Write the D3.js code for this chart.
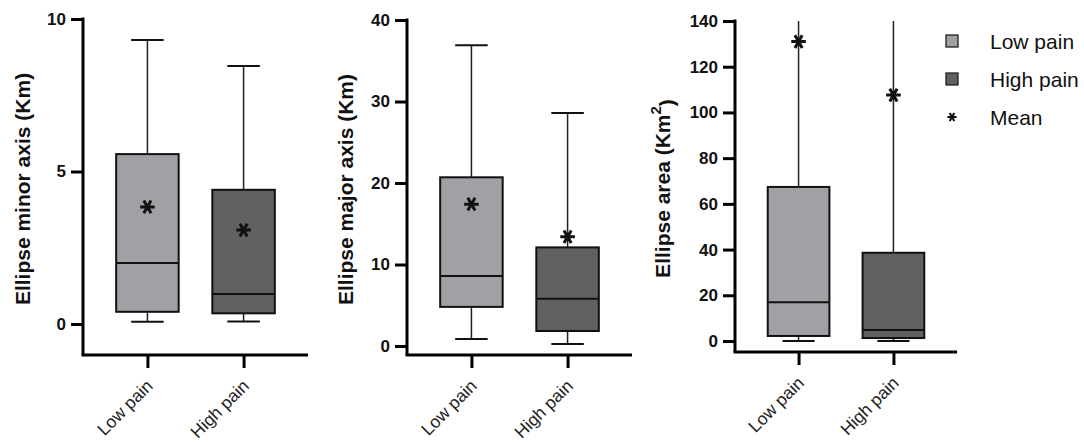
<!DOCTYPE html>
<html>
<head>
<meta charset="utf-8">
<script src="https://cdn.jsdelivr.net/npm/d3@7"></script>
<style>
  body { margin: 0; background: #fff; }
  svg { display: block; font-family: "Liberation Sans", Arial, sans-serif; }
</style>
</head>
<body>
<svg id="chart" width="1084" height="446"></svg>
<script>
// Groups
var categories = ["Low pain", "High pain"];

// Box stats per group: [whisker low, Q1, median, Q3, whisker high]
var minorStats = [[0.07, 0.4, 2.0, 5.57, 9.31], [0.08, 0.35, 0.98, 4.4, 8.46]];
var minorMeans = [3.84, 3.08];
var minorTicks = [0, 5, 10];

var majorStats = [[0.86, 4.8, 8.6, 20.7, 36.9], [0.25, 1.84, 5.8, 12.1, 28.6]];
var majorMeans = [17.4, 13.4];
var majorTicks = [0, 10, 20, 30, 40];

var areaStats = [[0.0, 2.2, 17.0, 67.4, 140], [0.0, 1.3, 4.8, 38.6, 140]];
var areaMeans = [131, 107.6];
var areaTicks = [0, 20, 40, 60, 80, 100, 120, 140];

var fills = ["#a1a1a5", "#616161"];

// Panel layout
var panels = [
  { stats: minorStats, means: minorMeans, ticks: minorTicks, label: "Ellipse minor axis (Km)",
    left: 83, right: 308, top: 19, zero: 324, bottom: 355, labelX: 23 },
  { stats: majorStats, means: majorMeans, ticks: majorTicks, label: "Ellipse major axis (Km)",
    left: 407, right: 632, top: 20, zero: 346, bottom: 355, labelX: 346 },
  { stats: areaStats, means: areaMeans, ticks: areaTicks, label: "Ellipse area (Km", sup: "2",
    left: 735, right: 957, top: 21, zero: 341, bottom: 352, labelX: 663 }
];

var svg = d3.select("#chart");
var star = d3.symbol().type(d3.symbolAsterisk);

panels.forEach(function(p) {
  var g = svg.append("g");
  var yMax = d3.max(p.ticks);

  var y = d3.scaleLinear().domain([0, yMax]).range([p.zero, p.top]);
  var x = d3.scalePoint().domain(categories).range([p.left, p.right]).padding(0.67);
  var boxW = x.step() * 0.65;
  var capW = boxW * 0.52;

  // Boxes
  var box = g.selectAll("g.box")
    .data(categories)
    .enter().append("g")
      .attr("class", "box")
      .attr("transform", function(d) { return translate(x(d), 0); });

  box.each(function(d, i) {
    var s = p.stats[i], b = d3.select(this);
    var top = Math.min(s[4], yMax);

    // Whiskers
    b.append("line").attr("x1", 0).attr("x2", 0)
      .attr("y1", y(s[3])).attr("y2", y(top))
      .style("stroke", "#222").style("stroke-width", 1.5);
    b.append("line").attr("x1", 0).attr("x2", 0)
      .attr("y1", y(s[1])).attr("y2", y(s[0]))
      .style("stroke", "#222").style("stroke-width", 1.5);
    if (s[4] < yMax) {
      b.append("line").attr("x1", -capW/2).attr("x2", capW/2)
        .attr("y1", y(s[4])).attr("y2", y(s[4]))
        .style("stroke", "#111").style("stroke-width", 2);
    }
    b.append("line").attr("x1", -capW/2).attr("x2", capW/2)
      .attr("y1", y(s[0])).attr("y2", y(s[0]))
      .style("stroke", "#111").style("stroke-width", 2);

    // Box
    b.append("rect")
      .attr("x", -boxW/2).attr("width", boxW)
      .attr("y", y(s[3])).attr("height", y(s[1]) - y(s[3]))
      .style("fill", fills[i])
      .style("stroke", "#111").style("stroke-width", 2);

    // Median
    b.append("line").attr("x1", -boxW/2).attr("x2", boxW/2)
      .attr("y1", y(s[2])).attr("y2", y(s[2]))
      .style("stroke", "#111").style("stroke-width", 2);

    // Mean
    b.append("path")
      .attr("d", star.size(150)())
      .attr("transform", translate(0, y(p.means[i])) + " rotate(90)")
      .style("fill", "none").style("stroke", "#111").style("stroke-width", 3);
  });

  // Y axis
  var yAxis = g.append("g")
    .attr("transform", translate(p.left, 0))
    .call(d3.axisLeft(y).tickValues(p.ticks).tickSize(12).tickPadding(5).tickSizeOuter(0));
  yAxis.select(".domain").remove();
  yAxis.selectAll(".tick line").style("stroke", "#000").style("stroke-width", 3);
  yAxis.selectAll(".tick text")
    .style("font-family", "Liberation Sans, Arial, sans-serif")
    .style("font-size", "17px").style("font-weight", "bold").style("fill", "#111");
  g.append("line")
    .attr("x1", p.left).attr("x2", p.left)
    .attr("y1", p.top - 1.5).attr("y2", p.bottom)
    .style("stroke", "#000").style("stroke-width", 3);

  // X axis
  var xAxis = g.append("g")
    .attr("transform", translate(0, p.bottom))
    .call(d3.axisBottom(x).tickSize(13).tickSizeOuter(0));
  xAxis.select(".domain").remove();
  xAxis.selectAll(".tick line").style("stroke", "#000").style("stroke-width", 3);
  xAxis.selectAll(".tick text")
    .attr("x", 0).attr("y", 0).attr("dy", 0)
    .attr("transform", translate(6, 32) + " rotate(-45)")
    .style("text-anchor", "end")
    .style("font-family", "Liberation Sans, Arial, sans-serif")
    .style("font-size", "17.5px").style("fill", "#222");
  g.append("line")
    .attr("x1", p.left - 1.5).attr("x2", p.right)
    .attr("y1", p.bottom).attr("y2", p.bottom)
    .style("stroke", "#000").style("stroke-width", 3);

  // Y label
  var lab = g.append("text")
    .attr("transform", translate(p.labelX, (p.top + p.bottom) / 2 + 2) + " rotate(-90)")
    .attr("dy", "0.35em")
    .style("text-anchor", "middle")
    .style("font-size", "21px").style("font-weight", "bold").style("fill", "#111")
    .text(p.label);
  if (p.sup) {
    lab.append("tspan").attr("dy", "-0.6em").style("font-size", "15px").text(p.sup);
    lab.append("tspan").attr("dy", "0.6em").text(")");
  }
});

// Legend
var legendItems = categories.concat(["Mean"]);
var legend = svg.append("g").attr("transform", translate(952, 41));
var item = legend.selectAll("g.item")
  .data(legendItems)
  .enter().append("g")
    .attr("class", "item")
    .attr("transform", function(d, i) { return translate(0, i * 38); });

item.each(function(d, i) {
  var it = d3.select(this);
  if (i < fills.length) {
    it.append("rect")
      .attr("x", -6).attr("y", -6).attr("width", 12).attr("height", 12)
      .style("fill", fills[i]).style("stroke", "#111").style("stroke-width", 1.2);
  } else {
    it.append("path")
      .attr("d", star.size(60)())
      .attr("transform", "rotate(90)")
      .style("fill", "none").style("stroke", "#111").style("stroke-width", 2.2);
  }
  it.append("text")
    .attr("x", 38).attr("dy", "0.36em")
    .style("font-size", "21px").style("fill", "#111")
    .text(d);
});

function translate(x, y) {
  return "translate(" + x + " " + y + ")";
}
</script>
</body>
</html>
